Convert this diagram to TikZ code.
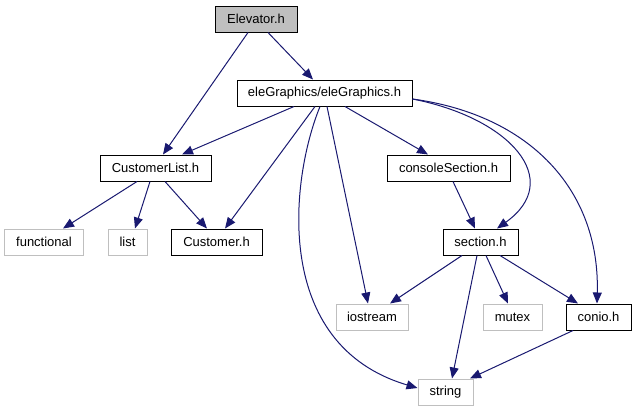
\documentclass[tikz,border=0pt]{standalone}
\usepackage{fontspec}
\setmainfont{Liberation Sans}
\usetikzlibrary{arrows.meta,calc}
\definecolor{edgeblue}{RGB}{25,25,112}
\definecolor{extgray}{RGB}{191,191,191}
\begin{document}
\begin{tikzpicture}[x=1bp,y=-1bp,
  box/.style={draw=black,line width=1bp,rectangle,inner sep=0pt,minimum height=26bp,font=\fontsize{13bp}{15bp}\selectfont},
  ext/.style={box,draw=extgray},
  cur/.style={box,fill=extgray},
  dep/.style={draw=edgeblue,line width=1bp,-{Triangle[length=11bp,width=9bp]}}
]
\useasboundingbox (0,0) rectangle (635,411);
\node[cur,minimum width=82bp] (el) at (256,19) {Elevator.h};
\node[box,minimum width=175bp] (eg) at (324.5,93) {eleGraphics/eleGraphics.h};
\node[box,minimum width=111bp] (cl) at (155.5,168) {CustomerList.h};
\node[box,minimum width=123bp] (cs) at (448.5,168) {consoleSection.h};
\node[ext,minimum width=78bp] (fn) at (44,242) {functional};
\node[ext,minimum width=39bp] (li) at (127.5,242) {list};
\node[box,minimum width=91bp] (cu) at (216.5,242) {Customer.h};
\node[box,minimum width=75bp] (se) at (480.5,242) {section.h};
\node[ext,minimum width=72bp] (io) at (372,317) {iostream};
\node[ext,minimum width=59bp] (mu) at (512.5,317) {mutex};
\node[box,minimum width=65bp] (co) at (598.5,317) {conio.h};
\node[ext,minimum width=55bp] (st) at (445.5,392) {string};

\draw[dep] ($(el.south)+(-8,0)$) -- ($(cl.north)+(7.5,0)$);
\draw[dep] ($(el.south)+(12,0)$) -- ($(eg.north)+(-11.5,0)$);
\draw[dep] ($(eg.south)+(-30.5,0)$) -- ($(cl.north)+(26.5,0)$);
\draw[dep] ($(eg.south)+(-9.5,0)$) -- ($(cu.north)+(8.5,0)$);
\draw[dep] ($(eg.south)+(-4.5,0)$) .. controls (290,180) and (272,345) .. ($(st.west)+(0,-4)$);
\draw[dep] ($(eg.south)+(2.5,0)$) -- ($(io.north)+(-4,0)$);
\draw[dep] ($(eg.south)+(20.5,0)$) -- ($(cs.north)+(-20.5,0)$);
\draw[dep] ($(eg.east)+(0,6)$) .. controls (510,118) and (565,180) .. ($(se.north)+(16.5,0)$);
\draw[dep] ($(eg.east)+(0,6)$) .. controls (530,115) and (600,190) .. ($(co.north)+(-1.5,0)$);
\draw[dep] ($(cl.south)+(-18.5,0)$) -- ($(fn.north)+(19,0)$);
\draw[dep] ($(cl.south)+(-5.5,0)$) -- ($(li.north)+(7.5,0)$);
\draw[dep] ($(cl.south)+(9.5,0)$) -- ($(cu.north)+(-9.5,0)$);
\draw[dep] ($(cs.south)+(4.5,0)$) -- ($(se.north)+(-5.5,0)$);
\draw[dep] ($(se.south)+(-18.5,0)$) -- ($(io.north)+(18,0)$);
\draw[dep] ($(se.south)+(-3.5,0)$) -- ($(st.north)+(6.5,0)$);
\draw[dep] ($(se.south)+(5.5,0)$) -- ($(mu.north)+(-4.5,0)$);
\draw[dep] ($(se.south)+(19.5,0)$) -- ($(co.north)+(-20.5,0)$);
\draw[dep] ($(co.south)+(-25.5,0)$) -- ($(st.north)+(24.5,0)$);
\end{tikzpicture}
\end{document}
